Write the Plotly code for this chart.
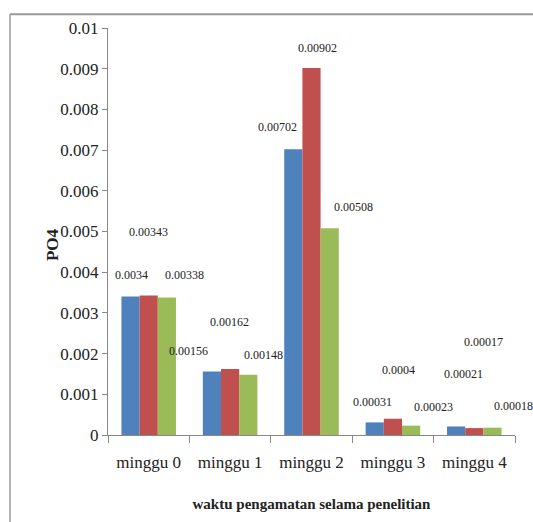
import plotly.graph_objects as go

categories = ["minggu 0", "minggu 1", "minggu 2", "minggu 3", "minggu 4"]
series_blue = [0.0034, 0.00156, 0.00702, 0.00031, 0.00021]
series_red = [0.00343, 0.00162, 0.00902, 0.0004, 0.00017]
series_green = [0.00338, 0.00148, 0.00508, 0.00023, 0.00018]
label_blue = ["0.0034", "0.00156", "0.00702", "0.00031", "0.00021"]
label_red = ["0.00343", "0.00162", "0.00902", "0.0004", "0.00017"]
label_green = ["0.00338", "0.00148", "0.00508", "0.00023", "0.00018"]
y_tick_values = [0, 0.001, 0.002, 0.003, 0.004, 0.005, 0.006, 0.007, 0.008, 0.009, 0.01]
y_tick_labels = ["0", "0.001", "0.002", "0.003", "0.004", "0.005", "0.006", "0.007", "0.008", "0.009", "0.01"]

# manual label placement (label height in data units, horizontal pixel shift)
label_pos_blue = [(0.00392, -17), (0.00207, -42), (0.00757, -34), (0.00082, -20), (0.00150, -11)]
label_pos_red = [(0.00500, 0), (0.00278, -1), (0.00952, 6), (0.00160, 6), (0.00229, 9)]
label_pos_green = [(0.00392, 36), (0.00197, 33), (0.00561, 42), (0.00070, 41), (0.00072, 39)]

FONT = "Liberation Serif"
colors = ["#4F81BD", "#C0504D", "#9BBB59"]

fig = go.Figure()
for vals, col in zip([series_blue, series_red, series_green], colors):
    fig.add_trace(go.Bar(x=categories, y=vals, marker=dict(color=col, line=dict(width=0)),
                         showlegend=False))

annotations = []
for labels, positions in [(label_blue, label_pos_blue), (label_red, label_pos_red), (label_green, label_pos_green)]:
    for cat, lab, (yy, xs) in zip(categories, labels, positions):
        annotations.append(dict(x=cat, y=yy, xref="x", yref="y", text=lab, showarrow=False,
                                xshift=xs, font=dict(family=FONT, size=12, color="#222")))

annotations.append(dict(x=-0.1376, y=0.469, xref="paper", yref="paper", text="<b>PO4</b>",
                        textangle=-90, showarrow=False, xanchor="center", yanchor="middle",
                        font=dict(family=FONT, size=17, color="#222")))

fig.update_layout(
    width=533, height=522,
    margin=dict(l=108, r=18, t=28, b=85),
    paper_bgcolor="white", plot_bgcolor="white",
    barmode="group", bargap=0.33, bargroupgap=0,
    font=dict(family=FONT, color="#222"),
    annotations=annotations,
    xaxis=dict(
        range=[-0.5, 4.5], autorange=False,
        showline=True, linecolor="#888", linewidth=1,
        ticks="outside", ticklen=7, tickcolor="#888", tickson="boundaries",
        ticklabelstandoff=12,
        tickfont=dict(family=FONT, size=17, color="#222"),
        title=dict(text="<b>waktu pengamatan selama penelitian</b>",
                   font=dict(family=FONT, size=15, color="#222"), standoff=27),
        showgrid=False, zeroline=False,
    ),
    yaxis=dict(
        range=[0, 0.01], autorange=False, tickvals=y_tick_values, ticktext=y_tick_labels,
        showline=True, linecolor="#888", linewidth=1,
        ticks="outside", ticklen=5, tickcolor="#888",
        tickfont=dict(family=FONT, size=17, color="#222"),
        showgrid=False, zeroline=False,
    ),
    shapes=[
        dict(type="line", xref="paper", yref="paper", x0=-0.2408, x1=1.1, y0=1.034, y1=1.034,
             line=dict(color="#999", width=2)),
        dict(type="line", xref="paper", yref="paper", x0=-0.2408, x1=-0.2408, y0=1.034, y1=-0.25,
             line=dict(color="#999", width=1.5)),
    ],
)

fig.write_html("out.html")
